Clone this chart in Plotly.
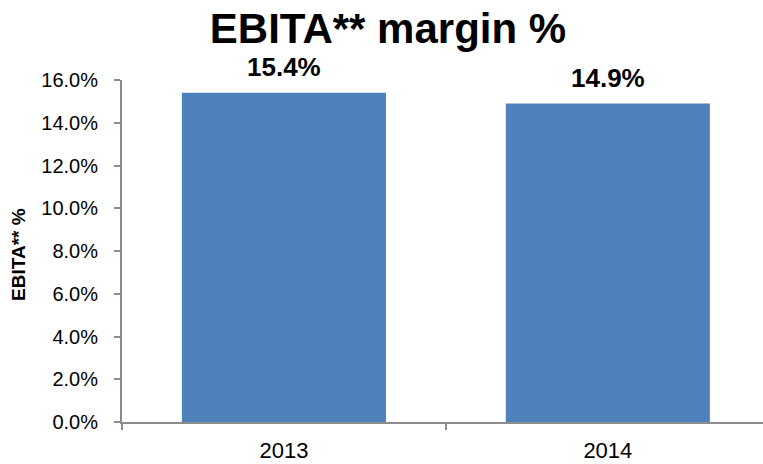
import plotly.graph_objects as go

# EBITA margin by fiscal year
years = ["2013", "2014"]
margins = [15.4, 14.9]
y_ticks = [0, 2, 4, 6, 8, 10, 12, 14, 16]
y_tick_labels = [f"{v:.1f}%" for v in y_ticks]

BAR_BLUE = "#4F81BD"
AXIS_GREY = "#8C8C8C"
FONT = "Liberation Sans, Arial, sans-serif"

fig = go.Figure()
fig.add_trace(go.Bar(
    x=years,
    y=margins,
    width=0.63,
    marker=dict(color=BAR_BLUE, line=dict(width=0)),
    hoverinfo="skip",
))

# value labels above each bar (category index positions)
for i, m in enumerate(margins):
    fig.add_annotation(
        x=i, y=m, xref="x", yref="y",
        text=f"<b>{m:.1f}%</b>",
        showarrow=False, yanchor="bottom", yshift=9,
        font=dict(family=FONT, size=26, color="black"),
    )

# vertical axis title, placed in pixels left of the plot area
fig.add_annotation(
    x=(6 - 122) / 641, xref="paper", y=0.49, yref="paper",
    text="<b>EBITA** %</b>", textangle=-90, showarrow=False,
    font=dict(family=FONT, size=19, color="black"),
)

fig.update_layout(
    width=763, height=464,
    margin=dict(l=122, r=0, t=80, b=42, pad=0),
    paper_bgcolor="white", plot_bgcolor="white",
    showlegend=False,
    title=dict(
        text="<b>EBITA** margin %</b>",
        x=388 / 763, xanchor="center", xref="container",
        y=1 - 28 / 464, yanchor="middle", yref="container",
        font=dict(family=FONT, size=42, color="black"),
    ),
    font=dict(family=FONT, color="black"),
    xaxis=dict(
        type="category",
        range=[-0.5, 1.479],
        showline=True, linecolor=AXIS_GREY, linewidth=2,
        ticks="outside", tickson="boundaries", ticklen=6,
        tickcolor=AXIS_GREY, tickwidth=2,
        showgrid=False, zeroline=False,
        tickfont=dict(family=FONT, size=22, color="black"),
        ticklabelstandoff=8,
    ),
    yaxis=dict(
        range=[0, 16],
        tickvals=y_ticks, ticktext=y_tick_labels,
        showline=True, linecolor=AXIS_GREY, linewidth=2,
        ticks="outside", ticklen=6, tickcolor=AXIS_GREY, tickwidth=2,
        showgrid=False, zeroline=False,
        tickfont=dict(family=FONT, size=20, color="black"),
        ticklabelstandoff=12,
    ),
)

fig.write_html("out.html")
